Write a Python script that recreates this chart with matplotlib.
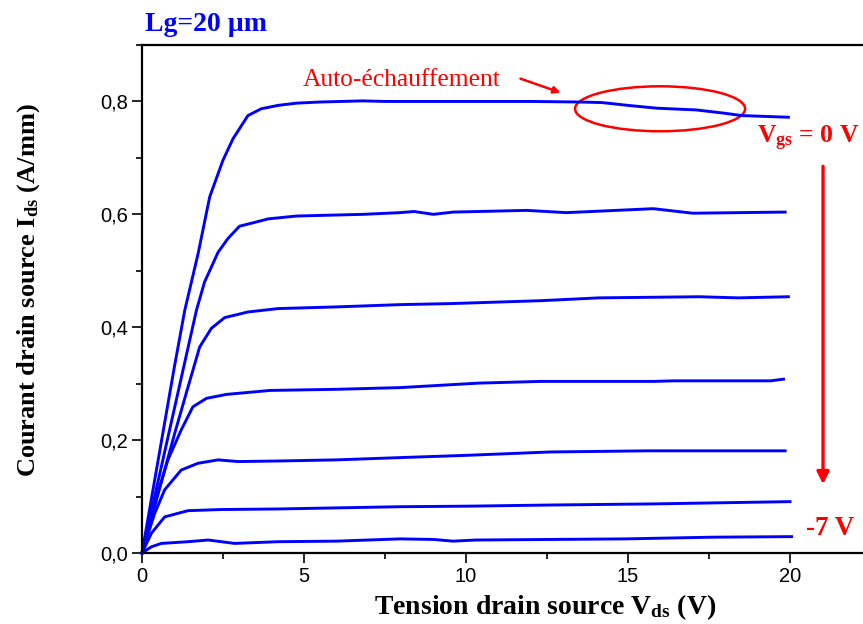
import matplotlib
matplotlib.use("Agg")
import matplotlib.pyplot as plt
from matplotlib.patches import Ellipse
from matplotlib.ticker import MultipleLocator, FuncFormatter

plt.rcParams['mathtext.fontset'] = 'custom'
plt.rcParams['mathtext.rm'] = 'Liberation Serif:bold'
plt.rcParams['mathtext.bf'] = 'Liberation Serif:bold'
plt.rcParams['mathtext.it'] = 'Liberation Serif:bold'
plt.rcParams['mathtext.default'] = 'rm'

# ---- data ----
vds_0 = [0, 0.5, 1.0, 1.32, 1.73, 2.09, 2.5, 2.81, 3.27, 3.68, 4.2, 4.77, 5.5, 6.8, 7.5, 9, 10, 12, 13.5, 14.2, 15, 15.9, 17.1, 18, 18.5, 19.95]
ids_0 = [0, 0.165, 0.33, 0.43, 0.53, 0.631, 0.696, 0.734, 0.775, 0.787, 0.793, 0.797, 0.799, 0.801, 0.800, 0.800, 0.800, 0.800, 0.799, 0.798, 0.793, 0.788, 0.785, 0.779, 0.775, 0.772]

vds_1 = [0, 0.5, 1.0, 1.68, 1.93, 2.35, 2.65, 3.01, 3.43, 3.9, 4.77, 6.83, 7.96, 8.4, 8.99, 9.61, 11.87, 13.1, 15.78, 17.0, 19.85]
ids_1 = [0, 0.128, 0.256, 0.43, 0.48, 0.533, 0.557, 0.579, 0.585, 0.592, 0.597, 0.600, 0.603, 0.605, 0.600, 0.604, 0.607, 0.603, 0.610, 0.602, 0.604]

vds_2 = [0, 0.5, 1.0, 1.4, 1.78, 2.14, 2.55, 3.27, 4.2, 6, 7.96, 9.6, 12.3, 14.1, 17.2, 18.4, 19.95]
ids_2 = [0, 0.105, 0.21, 0.29, 0.365, 0.398, 0.417, 0.427, 0.433, 0.436, 0.440, 0.442, 0.447, 0.452, 0.454, 0.452, 0.454]

vds_3 = [0, 0.4, 0.8, 1.21, 1.57, 1.99, 2.61, 3.95, 6, 7.96, 10.4, 12.3, 15.8, 16.4, 19.4, 19.8]
ids_3 = [0, 0.09, 0.165, 0.218, 0.259, 0.274, 0.281, 0.288, 0.290, 0.293, 0.301, 0.304, 0.304, 0.305, 0.305, 0.308]

vds_4 = [0, 0.39, 0.7, 1.21, 1.73, 2.35, 2.96, 4.2, 6, 7.96, 10, 12.6, 15.6, 19.85]
ids_4 = [0, 0.070, 0.112, 0.147, 0.159, 0.165, 0.162, 0.163, 0.165, 0.169, 0.173, 0.179, 0.181, 0.181]

vds_5 = [0, 0.29, 0.7, 1.42, 2.45, 4.2, 7.96, 10.1, 12.6, 15.8, 20]
ids_5 = [0, 0.035, 0.064, 0.075, 0.077, 0.078, 0.082, 0.083, 0.085, 0.087, 0.091]

vds_6 = [0, 0.29, 0.6, 1.42, 2.04, 2.86, 4.2, 6, 7.96, 9.0, 9.6, 10.3, 14.9, 17.6, 20.05]
ids_6 = [0, 0.011, 0.017, 0.020, 0.023, 0.017, 0.020, 0.021, 0.025, 0.024, 0.021, 0.023, 0.025, 0.028, 0.029]

curves = [(vds_0, ids_0), (vds_1, ids_1), (vds_2, ids_2), (vds_3, ids_3),
          (vds_4, ids_4), (vds_5, ids_5), (vds_6, ids_6)]

x_ticks = [0, 5, 10, 15, 20]
y_ticks = [0.0, 0.2, 0.4, 0.6, 0.8]

title_text = "Lg=20 µm"
annot_text = "Auto-échauffement"
vgs_top = r"V$_{gs}$ = 0 V"
vgs_bottom = "-7 V"

BLUE = "#0000ff"
RED = "#ff0000"
SERIF = "Liberation Serif"
SANS = "Liberation Sans"

fig = plt.figure(figsize=(8.63, 6.24), dpi=100)
W, H = 863, 624
ax = fig.add_axes([142 / W, (H - 553) / H, 22.5 * 32.4 / W, (553 - 45) / H])

for vx, iy in curves:
    ax.plot(vx, iy, color=BLUE, lw=2.1, solid_joinstyle='round', clip_on=False)

ax.set_xlim(0, 22.5)
ax.set_ylim(0, 0.9)
ax.set_xticks(x_ticks)
ax.set_yticks(y_ticks)
ax.xaxis.set_minor_locator(MultipleLocator(2.5))
ax.yaxis.set_minor_locator(MultipleLocator(0.1))
ax.yaxis.set_major_formatter(FuncFormatter(lambda v, p: f"{v:.1f}".replace('.', ',')))
ax.xaxis.set_major_formatter(FuncFormatter(lambda v, p: f"{v:g}"))
ax.tick_params(which='major', direction='out', length=7, width=1.2, labelsize=14.5, pad=3)
ax.tick_params(which='minor', direction='out', length=4, width=1.2)
for lab in ax.get_xticklabels() + ax.get_yticklabels():
    lab.set_fontfamily(SANS)
for s in ax.spines.values():
    s.set_linewidth(1.6)

ax.set_xlabel(r"Tension drain source V$_{ds}$ (V)", fontfamily=SERIF, fontweight='bold', fontsize=20)
ax.set_ylabel(r"Courant drain source I$_{ds}$ (A/mm)", fontfamily=SERIF, fontweight='bold', fontsize=19)
ax.xaxis.set_label_coords((545 - 142) / 729, (553 - 592) / 508)
ax.yaxis.set_label_coords((42 - 142) / 729, (553 - 290) / 508)

fig.text(145 / W, 1 - 31 / H, title_text, color=BLUE, fontfamily=SERIF, fontweight='bold',
         fontsize=20, ha='left', va='baseline')

ax.text(4.97, 0.828, annot_text, color=RED, fontfamily=SERIF, fontsize=18.4, ha='left', va='baseline')
ax.annotate("", xy=(13.0, 0.814), xytext=(11.6, 0.842),
            arrowprops=dict(arrowstyle='-|>', color=RED, lw=1.8, mutation_scale=10),
            annotation_clip=False)

ell = Ellipse((15.99, 0.787), width=5.25, height=0.0797, fill=False, edgecolor=RED, lw=1.8, clip_on=False)
ax.add_patch(ell)

ax.text(18.98, 0.7255, vgs_top, color=RED, fontfamily=SERIF, fontweight='bold', fontsize=18.5,
        ha='left', va='baseline', clip_on=False)
ax.text(20.5, 0.0318, vgs_bottom, color=RED, fontfamily=SERIF, fontweight='bold', fontsize=19.5,
        ha='left', va='baseline', clip_on=False)

ax.annotate("", xy=(21.02, 0.117), xytext=(21.02, 0.69),
            arrowprops=dict(arrowstyle='-|>', color=RED, lw=2.4, mutation_scale=18),
            annotation_clip=False)

fig.savefig("out.png", dpi=100)
